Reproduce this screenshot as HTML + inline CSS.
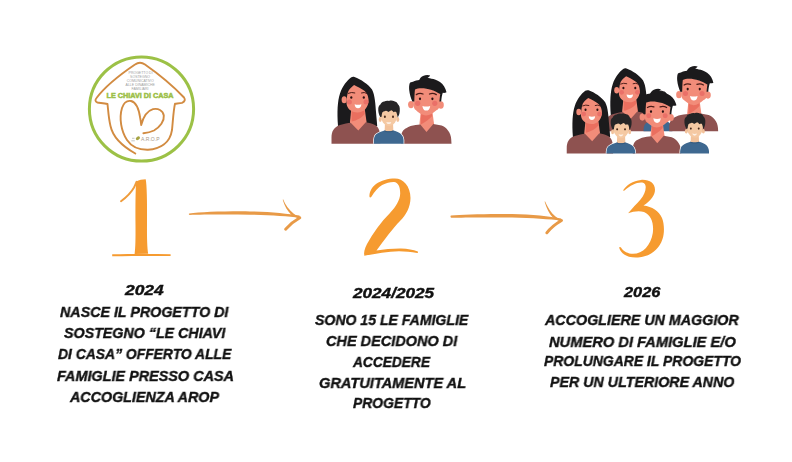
<!DOCTYPE html>
<html><head><meta charset="utf-8">
<style>
html,body{margin:0;padding:0;background:#fff;}
body{width:792px;height:462px;position:relative;overflow:hidden;font-family:"Liberation Sans",sans-serif;}
.t{position:absolute;font-weight:bold;font-style:italic;font-size:15px;line-height:15px;color:#111;white-space:nowrap;transform-origin:0 0;-webkit-text-stroke:0.4px #111;will-change:transform;}
svg.g{position:absolute;left:0;top:0;}
</style></head><body>
<svg class="g" width="792" height="462" viewBox="0 0 792 462">
<defs>
  <clipPath id="cm"><rect x="0" y="0" width="792" height="143.7"/></clipPath>
  <clipPath id="cb"><rect x="0" y="0" width="792" height="131.3"/></clipPath>
  <clipPath id="cf"><rect x="0" y="0" width="792" height="153.4"/></clipPath>
  <g id="woman">
    <path d="M338,126 C337,112 337.5,101 340,93.5 C342.5,86 347,80.5 351,77.5 C352,76.8 353.3,76.6 354.5,77 C361,79.5 368,84 372,89.5 C375,95 375.5,105 376,112 C376.5,118 377,122 377.2,126 Z" fill="#1b1a1c"/>
    <path d="M351.4,108 L364.6,108 L366.5,121.5 L366.5,128 L358.3,133 L350,128 L350,121.5 Z" fill="#f28c79"/>
    <path d="M351.6,110.5 L364.5,110.5 L364.7,114 C362,117.5 357,120.5 351.6,121.5 Z" fill="#ea6f5f"/>
    <path d="M331.5,144 L331.5,138 C331.5,131 334,127 340,125 C344,123.8 348,123 350.7,122.7 L358.3,130.5 L365.8,122.2 C369,122.8 372,123.5 375,125 C379,127 380.3,132 380.3,138 L380.3,144 Z" fill="#8e5250"/>
    <path d="M346.5,103 C346.8,97 347.5,92 349,90 C350.5,88 352.5,86.5 354.1,85.1 C357,86.5 361,88.5 364,90.5 C366.5,92.5 368.3,95 368.6,100 C368.6,107 364,112.5 357.5,112.5 C351,112.5 346.5,108 346.5,103 Z" fill="#f28c79"/>
    <ellipse cx="344.2" cy="99.8" rx="2.6" ry="3.5" fill="#f28c79"/>
    <path d="M348.3,93.3 Q351.5,91.8 354.8,92.9" stroke="#4a1c18" stroke-width="1" fill="none" stroke-linecap="round"/>
    <path d="M361.5,92.9 Q364.3,91.8 366.8,93.3" stroke="#4a1c18" stroke-width="1" fill="none" stroke-linecap="round"/>
    <ellipse cx="351.3" cy="97.5" rx="1.1" ry="1.3" fill="#2a1212"/>
    <ellipse cx="363.8" cy="97.5" rx="1.1" ry="1.3" fill="#2a1212"/>
    <circle cx="349.4" cy="102" r="2.5" fill="#ea7068"/>
    <circle cx="366" cy="102" r="2.5" fill="#ea7068"/>
    <path d="M354.6,104.3 Q358,105.3 361.4,104.3 Q361,108.3 358,108.3 Q355,108.3 354.6,104.3 Z" fill="#fff"/>
  </g>
  <g id="man">
    <path d="M421,109 L432,109 L434,123.5 L434,129 L426.5,134 L419.5,129 L419.5,123.5 Z" fill="#f28c79"/>
    <path d="M421.2,112 L431.9,112 L432.2,116 C429,119.5 425,122.5 420.8,124.5 Z" fill="#ea6f5f"/>
    <path d="M401,144 L401,138 C401,133 403,129.5 406.2,128.2 C409,126.5 412,125.6 415.6,125.1 L420.3,124.6 L426.5,131.9 L433.3,124.1 L441.6,125.6 C444,126.5 446,128 447.8,130.3 C450,133 451,136 451.2,139 L451.5,144 Z" fill="#8e5250"/>
    <ellipse cx="411" cy="104.6" rx="2.9" ry="3.7" fill="#f28c79"/>
    <ellipse cx="440.9" cy="105" rx="2.9" ry="3.7" fill="#f28c79"/>
    <path d="M413.2,100 C413.2,94 413.8,90 415,88.5 C419,87.3 426,87.3 431.7,89.5 C435,91 438,92 440.2,93.5 C440.5,97 440.5,101 440.2,104 C439.7,108 437.8,110 436.4,110.2 C433,113 430,115.4 426,115.4 C422,115.4 418,112 414.8,109.2 C413.5,107 413.2,104 413.2,100 Z" fill="#f28c79"/>
    <path d="M412.3,101.5 L414.3,101.5 C414.5,96 414.6,92 415,89.5 C418,88 424,87.4 431.7,90 C434.5,91 437.5,92.5 440.2,94 L439.4,101.5 L441.2,101.5 C441.5,98 442,95 442.8,92.8 C444,93 445.5,92.8 446.5,92.3 C445.5,88 443.5,84.5 440,82 C437,80 434,79 431.5,78.7 C430,78 428.5,77.8 427.5,78 C429,77 430,76.3 430.2,75.6 C428.5,74.8 425.5,74.9 423,76 C421,77 419.8,78.5 419.2,80 C417.5,80.3 415,80.7 413,81.7 C411.5,81.8 410.3,82.2 409.8,83 C409,85 409,88 409.2,90 C409.6,94 410.8,98 412.3,101.5 Z" fill="#1b1a1c"/>
    <path d="M416.3,94.6 Q419.5,92.6 423,94" stroke="#4a1c18" stroke-width="1.3" fill="none" stroke-linecap="round"/>
    <path d="M429.5,94 Q433,92.6 436.3,94.6" stroke="#4a1c18" stroke-width="1.3" fill="none" stroke-linecap="round"/>
    <ellipse cx="420" cy="98.8" rx="1.1" ry="1.4" fill="#2a1212"/>
    <ellipse cx="432.4" cy="98.8" rx="1.1" ry="1.4" fill="#2a1212"/>
    <circle cx="417.7" cy="103.3" r="2.6" fill="#ea7068"/>
    <circle cx="434.8" cy="103.3" r="2.6" fill="#ea7068"/>
    <path d="M422.4,105.9 Q426.3,107 430.2,105.9 Q429.6,110.6 426.3,110.6 Q423,110.6 422.4,105.9 Z" fill="#fff"/>
  </g>
  <g id="child">
    <path d="M385,122 L393,122 L393.4,132 L384.6,132 Z" fill="#f2c29b"/>
    <path d="M373.8,144 L373.9,140 C374.2,137 375,135 376.4,134.1 C378.5,132.5 381.5,131.2 384.6,130.4 C386,131.5 391.5,131.5 393.3,130.4 C396,131 398.5,132.2 400,133.3 C402.3,135 403.4,137.5 403.6,140 L403.6,144 Z" fill="#3e6890"/>
    <path d="M384.6,130.4 C386,131.5 391.5,131.5 393.3,130.4 L393.6,131.2 C391.5,132.6 386,132.6 384.3,131.2 Z" fill="#345a7e"/>
    <ellipse cx="380.2" cy="119.5" rx="1.5" ry="2.4" fill="#f2c29b"/>
    <ellipse cx="397.8" cy="119.5" rx="1.5" ry="2.4" fill="#f2c29b"/>
    <path d="M380.6,114 C380.6,109 384,107.5 389,107.5 C394,107.5 397.4,109 397.4,114 C397.4,121 393.5,126 389,126 C384.5,126 380.6,121 380.6,114 Z" fill="#f5c9a3"/>
    <path d="M380.2,117 C378.8,114.5 378,111 378.3,108.2 C378.5,106.5 379.3,105.2 380.4,104.6 C380.8,103 382.5,101.8 384.3,101.6 C385.5,100.6 387.5,100.4 389,100.9 C390.5,100.2 393,100.4 394.3,101.3 C396,101.6 397.5,102.8 397.9,104.3 C399.3,105.3 400,107.5 399.8,110 C399.8,112.5 399.2,115.5 397.7,117.4 C397.2,114.8 396.8,113 396.2,111.9 C395.2,111.6 394.3,111.8 393.6,112.2 C393,111 392,110.4 391.3,110.2 C390,110.9 389,111.5 388.2,112 C387.6,111.2 386.7,110.8 385.8,110.8 C384,111.3 382.8,112 382.3,112.5 C381.8,114 381.6,115.5 381.6,116.8 Z" fill="#262526"/>
    <ellipse cx="384.9" cy="116.8" rx="1" ry="1.2" fill="#4a2c1c"/>
    <ellipse cx="393" cy="116.8" rx="1" ry="1.2" fill="#4a2c1c"/>
    <path d="M386.3,121.9 Q388.8,122.7 391.3,121.9 Q390.8,124.1 388.8,124.1 Q386.8,124.1 386.3,121.9 Z" fill="#fdf0e6"/>
  </g>
  <path id="childsil" d="M373.8,144 L373.9,140 C374.2,137 375,135 376.4,134.1 C378.5,132.5 381.5,131.2 384.6,130.4 C386,131.5 391.5,131.5 393.3,130.4 C396,131 398.5,132.2 400,133.3 C402.3,135 403.4,137.5 403.6,140 L403.6,144 Z"/>
  <path id="mansil" d="M401,144 L401,138 C401,133 403,129.5 406.2,128.2 C409,126.5 412,125.6 415.6,125.1 L420.3,124.6 L426.5,131.9 L433.3,124.1 L441.6,125.6 C444,126.5 446,128 447.8,130.3 C450,133 451,136 451.2,139 L451.5,144 Z"/>
  <path id="womansil" d="M331.5,144 L331.5,138 C331.5,131 334,127 340,125 C344,123.8 348,123 350.7,122.7 L358.3,130.5 L365.8,122.2 C369,122.8 372,123.5 375,125 C379,127 380.3,132 380.3,138 L380.3,144 Z"/>
</defs>

<!-- ===== Logo ===== -->
<circle cx="141.5" cy="109" r="52.1" fill="none" stroke="#9cc146" stroke-width="3"/>
<path d="M135.3,153.5 C122,146 113,138 110.5,126 C108.5,118 108.2,110 107.5,104 C104,103 100,103 97.5,102.5 C95,101.5 95,99.8 96.5,98 C104,88 118,76 135,64.5 C138.5,62 141.5,62 145,64.5 C160,75 175,88 184,97.5 C185.5,99.5 185,101.5 182,102.8 C180,103.3 177,103.5 175,103.8 C173.5,110 173,120 172,130 C170,143 160,149 148,149.8 C138,150 131,146 127,140 C121,131 119,118 122,108 C124,102 128,100.5 131,101 C136,102 139,110 140.2,118 C140.8,121 141,123.5 141.2,125 C143,118 147,111 153,109.2 C158,108 163,110.5 163.8,115.5 C164.5,121 160,127 154,130.5 C150,132.5 146,133 143.4,133.2" fill="none" stroke="#d28b41" stroke-width="1.9" stroke-linecap="round" stroke-linejoin="round"/>
<g fill="#a0a0a0" font-family="Liberation Sans" font-size="3.5" text-anchor="middle">
<text x="140.6" y="74">PROGETTO DI</text>
<text x="140" y="78">SOSTEGNO</text>
<text x="140.2" y="82.4">COMUNICATIVO</text>
<text x="140.2" y="86.2">ALLE DINAMICHE</text>
<text x="140" y="90.2">FAMILIARI</text>
</g>
<text x="140.1" y="98.0" fill="#9cbf48" stroke="#9cbf48" stroke-width="0.55" font-family="Liberation Sans" font-weight="bold" font-size="7.9" text-anchor="middle" textLength="67" lengthAdjust="spacingAndGlyphs">LE CHIAVI DI CASA</text>
<text x="150.3" y="140.6" fill="#a89a8a" font-family="Liberation Sans" font-size="4.6" text-anchor="middle" textLength="18.5" lengthAdjust="spacingAndGlyphs">A.R.O.P</text>
<ellipse cx="137.9" cy="138.2" rx="2.3" ry="1.6" transform="rotate(-35 137.9 138.2)" fill="#a6a444"/><path d="M131.3,140.8 L134.8,140.8 M132,138.3 L134.5,138.3" stroke="#b8b8b8" stroke-width="0.8"/>

<!-- ===== Numbers ===== -->
<g fill="#f69b30">
<path d="M136.2,181.5 C139,180 142.5,179.3 145.7,179.2 C146.8,185 147.2,200 147,225 C146.9,238 147.2,248 148.2,253.8 L134.6,254 C135.5,248 135.6,238 135.5,225 C135.4,205 135.5,190 136.2,181.5 Z"/>
<path d="M121,201.3 C126,197.5 131,193 134,187.5 C135,185.5 135.8,183.5 136.5,181.8" fill="none" stroke="#ef9c3c" stroke-width="1.9" stroke-linecap="round"/>
<path d="M112.2,254.3 C130,254 150,253.8 170.6,254.3 L170.6,256 C150,255.8 130,256 112.2,256.2 Z"/>

<path d="M369.5,197 C369,192 372,187 376,184 C381,180.5 388,178.5 395,178.5 C403,178.5 410.5,186 410.5,198 C410.5,207 406,215 400,221 C393,228 385,239 376.5,250.5 C384,249.5 393,248.5 401,248.6 C408,248.8 413,250 417.8,251.5 C418.3,252 418,253 417.3,253 C411,252 405,251.2 399,251.2 C388,251.5 376,253.5 364.4,255.8 C363.5,253 364.5,249 367,244 C373,233 381,222 390,213 C396,206.5 400,200 400.2,193.5 C400.2,186.5 398,182.2 394,182 C387,181.8 378,185 371.4,196.8 C370.8,197.6 369.8,197.6 369.5,197 Z"/>

<path d="M623.3,190 C626,185.5 633,180.5 641,179.9 C649,179.3 655,183 655,189.7 C655,195 651,200.5 643.5,205.5 C652,206.5 659,211 662,218 C664.5,224 664.5,233 662.5,239 C659,250 650,256 640,257.3 C632,258.2 625,256.5 621.5,252 C620,250.3 619.2,248.5 619.3,247.3 C619.8,246.8 620.6,247 621,247.5 C623.5,251.5 628,253.8 633,253.8 C643,253.8 651,245 652.8,233 C654,224 651.5,215 644,212 C639,210.5 633,211.5 628.1,213.3 C632,208.5 637,203.5 640.5,199.5 C644,195.5 645.8,191 645.7,187 C645.5,183.5 643.5,182.5 641,182.6 C636,182.8 630,185.5 624.5,190.6 C623.9,191 623,190.6 623.3,190 Z"/>
</g>

<!-- ===== Arrows ===== -->
<g fill="#e89a47">
<path d="M189.3,213.4 C200,212.1 225,211.1 250,211.4 C270,211.8 288,213.6 299.5,215.6 L299.8,217.8 C288,216.4 270,215 250,214.7 C225,214.4 200,214.6 189.6,215 C188.6,214.8 188.6,213.6 189.3,213.4 Z"/>
<path d="M283.1,199.3 C285.5,205 289,210 293.5,213.5 C295.8,215.2 298.2,216.3 301,217.3 L300.2,218.6 C296.5,218 293.5,216.6 291,214.5 C287.5,211 284.5,206 282.8,200 C282.8,199.4 283,199.2 283.1,199.3 Z"/>
<path d="M451,215.6 C462,214.4 487,213.6 512,214 C532,214.4 550,216.2 561.2,218.6 L561.5,220.6 C550,219.4 532,218 512,217.6 C487,217.3 462,217.5 451.3,217.8 C450.3,217.6 450.3,215.8 451,215.6 Z"/>
<path d="M545,201.3 C547.5,207 551,213 555.5,216.5 C557.8,218.2 560,219.3 562.7,220.2 L562,221.6 C558.2,221 555.3,219.6 552.8,217.5 C549.3,214 546.5,208 544.7,202 C544.7,201.4 544.9,201.2 545,201.3 Z"/>
</g>
<g fill="none" stroke="#e89a47" stroke-linecap="round" stroke-width="2.9">
<path d="M299.8,217.8 C294,221 289.5,225 285.6,229.2"/>
<path d="M561.5,220.5 C555.5,224 550.5,228 546.8,232.8"/>
</g>

<!-- ===== Family 2 ===== -->
<g clip-path="url(#cm)">
  <use href="#woman"/>
  <use href="#man"/>
  <use href="#childsil" fill="none" stroke="#fff" stroke-width="1.4"/>
  <use href="#child"/>
</g>

<!-- ===== Family 3 ===== -->
<g clip-path="url(#cb)">
  <use href="#woman" transform="translate(289.7,-4.6) scale(0.95)"/>
  <use href="#child" transform="translate(280.9,-6.9) scale(0.97)"/>
  <use href="#man" transform="translate(280.3,-6.8) scale(0.97)"/>
</g>
<g clip-path="url(#cf)">
  <g transform="translate(251.8,17.2) scale(0.95)">
    <use href="#womansil" fill="none" stroke="#fff" stroke-width="1.4"/>
    <use href="#woman"/>
  </g>
  <g transform="translate(247.8,16.7) scale(0.96)">
    <use href="#mansil" fill="none" stroke="#fff" stroke-width="1.4"/>
    <use href="#man"/>
  </g>
  <g transform="translate(243.8,16) scale(0.97)">
    <use href="#childsil" fill="none" stroke="#fff" stroke-width="1.4"/>
    <use href="#child"/>
  </g>
  <g transform="translate(317.5,15.3) scale(0.97)">
    <use href="#childsil" fill="none" stroke="#fff" stroke-width="1.4"/>
    <use href="#child"/>
  </g>
</g>
</svg>
<div class="t" style="left:125.3px;top:282.0px;transform:scaleX(1.1606)">2024</div>
<div class="t" style="left:60.2px;top:304.3px;transform:scaleX(0.9514)">NASCE IL PROGETTO DI</div>
<div class="t" style="left:63.6px;top:324.8px;transform:scaleX(0.9506)">SOSTEGNO “LE CHIAVI</div>
<div class="t" style="left:58.0px;top:346.4px;transform:scaleX(0.9255)">DI CASA” OFFERTO ALLE</div>
<div class="t" style="left:56.8px;top:368.0px;transform:scaleX(0.9612)">FAMIGLIE PRESSO CASA</div>
<div class="t" style="left:70.0px;top:388.5px;transform:scaleX(0.9522)">ACCOGLIENZA AROP</div>
<div class="t" style="left:352.8px;top:284.75px;transform:scaleX(1.1437)">2024/2025</div>
<div class="t" style="left:314.6px;top:312.0px;transform:scaleX(0.9384)">SONO 15 LE FAMIGLIE</div>
<div class="t" style="left:325.83px;top:333.3px;transform:scaleX(0.9659)">CHE DECIDONO DI</div>
<div class="t" style="left:353.0px;top:353.5px;transform:scaleX(0.9141)">ACCEDERE</div>
<div class="t" style="left:318.73px;top:374.5px;transform:scaleX(0.9718)">GRATUITAMENTE AL</div>
<div class="t" style="left:353.0px;top:395.2px;transform:scaleX(0.925)">PROGETTO</div>
<div class="t" style="left:624.0px;top:283.7px;transform:scaleX(1.0909)">2026</div>
<div class="t" style="left:545.4px;top:311.8px;transform:scaleX(0.9527)">ACCOGLIERE UN MAGGIOR</div>
<div class="t" style="left:549.3px;top:333.6px;transform:scaleX(0.9785)">NUMERO DI FAMIGLIE E/O</div>
<div class="t" style="left:543.6px;top:353.4px;transform:scaleX(0.9292)">PROLUNGARE IL PROGETTO</div>
<div class="t" style="left:550.0px;top:374.2px;transform:scaleX(0.9495)">PER UN ULTERIORE ANNO</div>
</body></html>
